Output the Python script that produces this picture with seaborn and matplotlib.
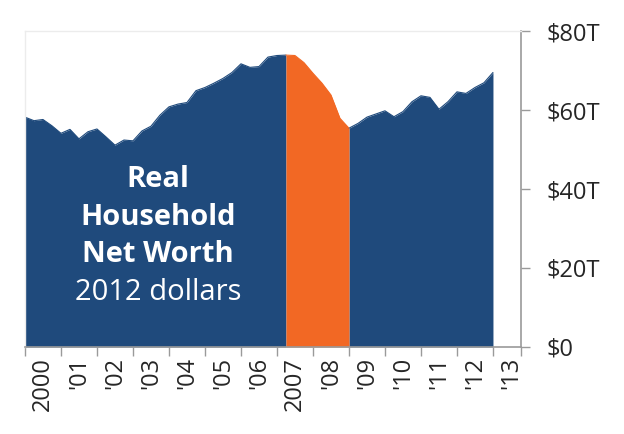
import numpy as np
import pandas as pd
import matplotlib
matplotlib.use("Agg")
import matplotlib.pyplot as plt
import seaborn as sns

# quarterly real household net worth, trillions of 2012 dollars, 2000Q1 .. 2013Q1
net_worth = [58.2, 57.3, 57.6, 56.0, 54.1, 55.1, 52.7, 54.5, 55.2, 53.2,
             51.1, 52.4, 52.2, 54.7, 55.9, 58.7, 60.8, 61.5, 61.9, 64.9,
             65.7, 66.8, 68.0, 69.5, 71.7, 70.8, 71.0, 73.4, 73.8, 73.9,
             73.8, 72.0, 69.3, 66.8, 63.8, 57.9, 55.4, 56.6, 58.2, 59.0,
             59.8, 58.3, 59.6, 62.1, 63.6, 63.2, 60.2, 62.1, 64.6, 64.2,
             65.7, 66.9, 69.5]
start_year = 2000
recession = (2007.25, 2009.0)
year_labels = ["2000", "'01", "'02", "'03", "'04", "'05", "'06", "2007",
               "'08", "'09", "'10", "'11", "'12", "'13"]
y_ticks = [0, 20, 40, 60, 80]
y_labels = ["$0", "$20T", "$40T", "$60T", "$80T"]
title_lines = ["Real", "Household", "Net Worth"]
subtitle = "2012 dollars"

blue = "#1f4a7c"
orange = "#f26824"
grey = "#9a9a9a"

df = pd.DataFrame({"t": start_year + np.arange(len(net_worth)) / 4,
                   "worth": net_worth})

sns.set_theme(style="white")
plt.rcParams["font.family"] = ["Open Sans", "DejaVu Sans"]

fig = plt.figure(figsize=(6.24, 4.34), dpi=100)
ax = fig.add_axes([0.040, 0.2005, 0.795, 0.728])

rec = (df.t >= recession[0]) & (df.t <= recession[1])
pre = df.t <= recession[0]
post = df.t >= recession[1]
ax.fill_between(df.t[pre], 0, df.worth[pre], color=blue, lw=0)
ax.fill_between(df.t[post], 0, df.worth[post], color=blue, lw=0)
ax.fill_between(df.t[rec], 0, df.worth[rec], color=orange, lw=0)
sns.lineplot(data=df[pre], x="t", y="worth", color=blue, lw=0.8, ax=ax)
sns.lineplot(data=df[post], x="t", y="worth", color=blue, lw=0.8, ax=ax)
sns.lineplot(data=df[rec], x="t", y="worth", color=orange, lw=0.8, ax=ax)

ax.set_xlim(2000, 2013.78)
ax.set_ylim(0, 80)
ax.set_xlabel("")
ax.set_ylabel("")

years = np.arange(2000, 2014)
ax.set_xticks(list(years) + [2013.78])
ax.set_xticklabels([])
ax.set_xticks(years + 0.5, minor=True)
ax.set_xticklabels(year_labels, minor=True, rotation=90, fontsize=17)
ax.tick_params(axis="x", which="major", direction="out", length=6.5,
               width=1, color=grey, bottom=True)
ax.tick_params(axis="x", which="minor", length=0, pad=7, bottom=True)

ax.yaxis.tick_right()
ax.set_yticks(y_ticks)
ax.set_yticklabels(y_labels, fontsize=17)
ax.tick_params(axis="y", direction="out", length=6.5, width=1, color=grey,
               right=True, pad=12)

for side in ["left", "top"]:
    ax.spines[side].set_color("#ececec")
    ax.spines[side].set_linewidth(1)
for side in ["right", "bottom"]:
    ax.spines[side].set_color(grey)
    ax.spines[side].set_linewidth(1.2)

# text block centred at x ~ 2003.7, one line every ~9.4 units
text_x = 2003.7
for k, line in enumerate(title_lines):
    ax.text(text_x, 42.3 - 9.5 * k, line, color="white", fontsize=21,
            fontweight="bold", ha="center", va="center")
ax.text(text_x, 42.3 - 9.5 * 3, subtitle, color="white", fontsize=21,
        ha="center", va="center")

fig.savefig("out.png", dpi=100)
